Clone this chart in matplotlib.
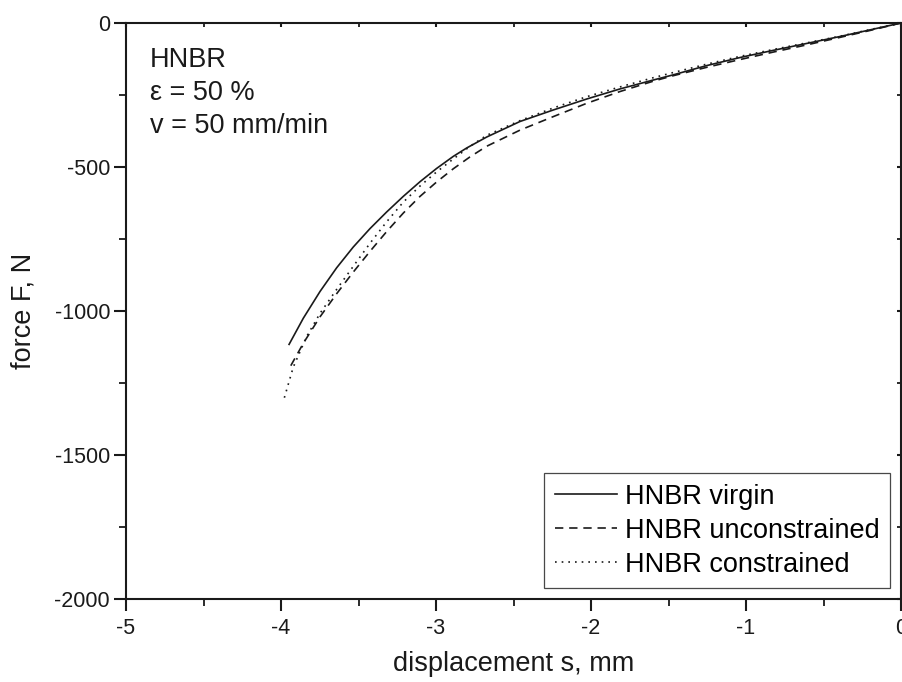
import matplotlib
matplotlib.use("Agg")
import matplotlib.pyplot as plt
from matplotlib.ticker import MultipleLocator
from matplotlib import lines as mlines

plt.rcParams['font.family'] = ['Liberation Sans', 'DejaVu Sans']

# Force-displacement curves (displacement in mm, force in N)
virgin_s = [0.0, -0.2, -0.394, -0.608, -0.824, -1.039, -1.254, -1.469, -1.598,
            -1.813, -2.028, -2.243, -2.458, -2.673, -2.802, -2.888, -2.996,
            -3.103, -3.211, -3.318, -3.426, -3.534, -3.641, -3.748, -3.856, -3.948]
virgin_f = [0, -24, -47, -71, -95, -120, -148, -180, -198,
            -229, -264, -302, -342, -396, -434, -463, -505,
            -551, -602, -656, -714, -778, -850, -932, -1025, -1116]

unconstr_s = [0.0, -0.2, -0.394, -0.608, -0.824, -1.039, -1.254, -1.469, -1.598,
              -1.813, -2.028, -2.243, -2.458, -2.673, -2.781, -2.888, -2.996,
              -3.103, -3.211, -3.318, -3.426, -3.534, -3.641, -3.748, -3.856, -3.937]
unconstr_f = [0, -26, -50, -76, -101, -127, -154, -183, -202,
              -238, -279, -325, -372, -428, -465, -506, -552,
              -602, -660, -724, -793, -865, -940, -1020, -1112, -1190]

constr_s = [0.0, -0.2, -0.394, -0.608, -0.824, -1.039, -1.254, -1.469, -1.598,
            -1.813, -2.028, -2.243, -2.458, -2.673, -2.78, -2.888, -2.996,
            -3.103, -3.211, -3.318, -3.426, -3.534, -3.641, -3.748, -3.834, -3.921, -3.987]
constr_f = [0, -23, -46, -69, -92, -116, -143, -172, -190,
            -222, -256, -295, -339, -390, -428, -472, -517,
            -566, -622, -690, -765, -845, -925, -1008, -1088, -1195, -1317]

series_labels = ['HNBR virgin', 'HNBR unconstrained', 'HNBR constrained']
x_ticks = [-5, -4, -3, -2, -1, 0]
y_ticks = [-2000, -1500, -1000, -500, 0]
info_lines = ['HNBR', 'ε = 50 %', 'v = 50 mm/min']

ink = '#1a1a1a'
fs_tick = 15.5
fs_text = 19.5

fig = plt.figure(figsize=(9.02, 6.82), dpi=100)
ax = fig.add_axes([0.1397, 0.1217, 0.8592, 0.8446])

ax.plot(virgin_s, virgin_f, color=ink, lw=1.2, linestyle='-', label=series_labels[0])
ax.plot(unconstr_s, unconstr_f, color=ink, lw=1.2, linestyle=(0, (5, 3.5)), label=series_labels[1])
ax.plot(constr_s, constr_f, color=ink, lw=1.2, linestyle=(0, (1, 3)), label=series_labels[2])

ax.set_xlim(-5, 0)
ax.set_ylim(-2000, 0)
ax.set_xticks(x_ticks)
ax.set_yticks(y_ticks)
ax.set_xticklabels([str(v) for v in x_ticks])
ax.set_yticklabels([str(v) for v in y_ticks])
ax.xaxis.set_minor_locator(MultipleLocator(0.5))
ax.yaxis.set_minor_locator(MultipleLocator(250))

for sp in ax.spines.values():
    sp.set_linewidth(1.5)
    sp.set_color(ink)

ax.tick_params(axis='both', which='major', direction='out', length=8.5, width=1.5,
               labelsize=fs_tick, colors=ink)
ax.tick_params(axis='both', which='minor', direction='out', length=5, width=1.3, colors=ink)
ax.tick_params(axis='y', which='major', pad=3)
ax.tick_params(axis='x', which='major', pad=5)
ax.tick_params(axis='both', which='both', top=True, right=True)
# short inward ticks on the top and right spines
for t in ax.xaxis.get_major_ticks() + ax.xaxis.get_minor_ticks():
    t.tick2line.set_marker(mlines.TICKDOWN)
    t.tick2line.set_markersize(3)
for t in ax.yaxis.get_major_ticks() + ax.yaxis.get_minor_ticks():
    t.tick2line.set_marker(mlines.TICKLEFT)
    t.tick2line.set_markersize(3)

ax.set_xlabel('displacement s, mm', fontsize=fs_text, color=ink, labelpad=9)
ax.set_ylabel('force F, N', fontsize=fs_text, color=ink, labelpad=13)

for i, line in enumerate(info_lines):
    ax.text(0.031, 0.9237 - i * 0.0572, line, transform=ax.transAxes,
            fontsize=fs_text, color=ink, va='baseline', ha='left')

leg = ax.legend(loc='lower right', fontsize=fs_text, frameon=True, fancybox=False,
                edgecolor=ink, handlelength=2.3, handletextpad=0.3,
                borderpad=0.38, labelspacing=0.3, borderaxespad=0.4)
leg.get_frame().set_linewidth(0.9)

fig.savefig('out.png', dpi=100)
